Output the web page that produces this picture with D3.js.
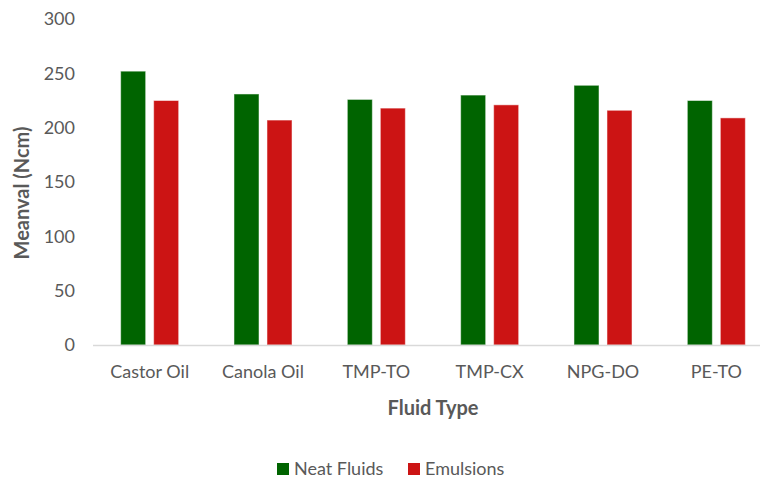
<!DOCTYPE html>
<meta charset="utf-8" />
<script src="https://d3js.org/d3.v7.js"></script>
<style>
  body { margin: 0; background: white; }
  text { font-family: Lato, "Open Sans", sans-serif; fill: #595959; }
</style>
<div id="chart"></div>
<script>
  // data
  var fluids = ["Castor Oil", "Canola Oil", "TMP-TO", "TMP-CX", "NPG-DO", "PE-TO"];
  var series = ["Neat Fluids", "Emulsions"];
  var neatVals = [252, 231, 226, 230, 239, 225];
  var emulVals = [225, 207, 218, 221, 216, 209];
  var yTicks = [0, 50, 100, 150, 200, 250, 300];
  var colors = ["#006400", "#CC1414"];

  const width = 760;
  const height = 479;

  const svg = d3
    .select("#chart")
    .append("svg")
    .attr("width", width)
    .attr("height", height);

  var rows = fluids.map(function (f, i) {
    return { fluid: f, vals: [neatVals[i], emulVals[i]] };
  });

  // plot area runs past the right edge, like the reference crop
  var x0 = d3.scaleBand().domain(fluids).range([93, 773])
    .paddingInner(0.488).paddingOuter(0.244);
  var x1 = d3.scaleBand().domain(series).range([0, x0.bandwidth()])
    .paddingInner(0.242).paddingOuter(0);
  var y = d3.scaleLinear().domain([0, 300]).range([345, 19]);

  // y tick labels
  svg.append("g")
    .selectAll("text")
    .data(yTicks)
    .enter()
    .append("text")
    .attr("x", 75)
    .attr("y", d => y(d))
    .attr("dy", "0.35em")
    .attr("text-anchor", "end")
    .style("font-size", "18px")
    .text(d => d);

  // bars
  var groups = svg.append("g")
    .selectAll("g")
    .data(rows)
    .enter()
    .append("g")
    .attr("transform", d => "translate(" + x0(d.fluid) + ",0)");

  groups.selectAll("rect")
    .data(d => d.vals.map((v, i) => ({ key: series[i], v: v, i: i })))
    .enter()
    .append("rect")
    .attr("x", d => x1(d.key))
    .attr("width", x1.bandwidth())
    .attr("y", d => y(d.v))
    .attr("height", d => y(0) - y(d.v))
    .attr("fill", d => colors[d.i])
    .attr("stroke", "rgba(255,255,255,0.5)")
    .attr("stroke-width", 1);

  // x axis line
  svg.append("line")
    .attr("x1", 93).attr("x2", 773)
    .attr("y1", y(0) + 0.5).attr("y2", y(0) + 0.5)
    .attr("stroke", "#d9d9d9")
    .attr("stroke-width", 1.5);

  // category labels
  svg.append("g")
    .selectAll("text")
    .data(fluids)
    .enter()
    .append("text")
    .attr("x", d => x0(d) + x0.bandwidth() / 2)
    .attr("y", 372)
    .attr("dy", "0.35em")
    .attr("text-anchor", "middle")
    .style("font-size", "18px")
    .text(d => d);

  // axis titles
  svg.append("text")
    .attr("x", 433)
    .attr("y", 408)
    .attr("dy", "0.35em")
    .attr("text-anchor", "middle")
    .style("font-size", "20px")
    .style("font-weight", "bold")
    .text("Fluid Type");

  svg.append("text")
    .attr("transform", "translate(22,193) rotate(-90)")
    .attr("dy", "0.35em")
    .attr("text-anchor", "middle")
    .style("font-size", "20px")
    .style("font-weight", "bold")
    .text("Meanval (Ncm)");

  // legend
  var legendX = [277, 408];
  var legend = svg.append("g")
    .selectAll("g")
    .data(series)
    .enter()
    .append("g")
    .attr("transform", (d, i) => "translate(" + legendX[i] + ",469)");

  legend.append("rect")
    .attr("x", 0).attr("y", -6)
    .attr("width", 12).attr("height", 12)
    .attr("fill", (d, i) => colors[i]);

  legend.append("text")
    .attr("x", 17)
    .attr("dy", "0.35em")
    .style("font-size", "18px")
    .text(d => d);
</script>
